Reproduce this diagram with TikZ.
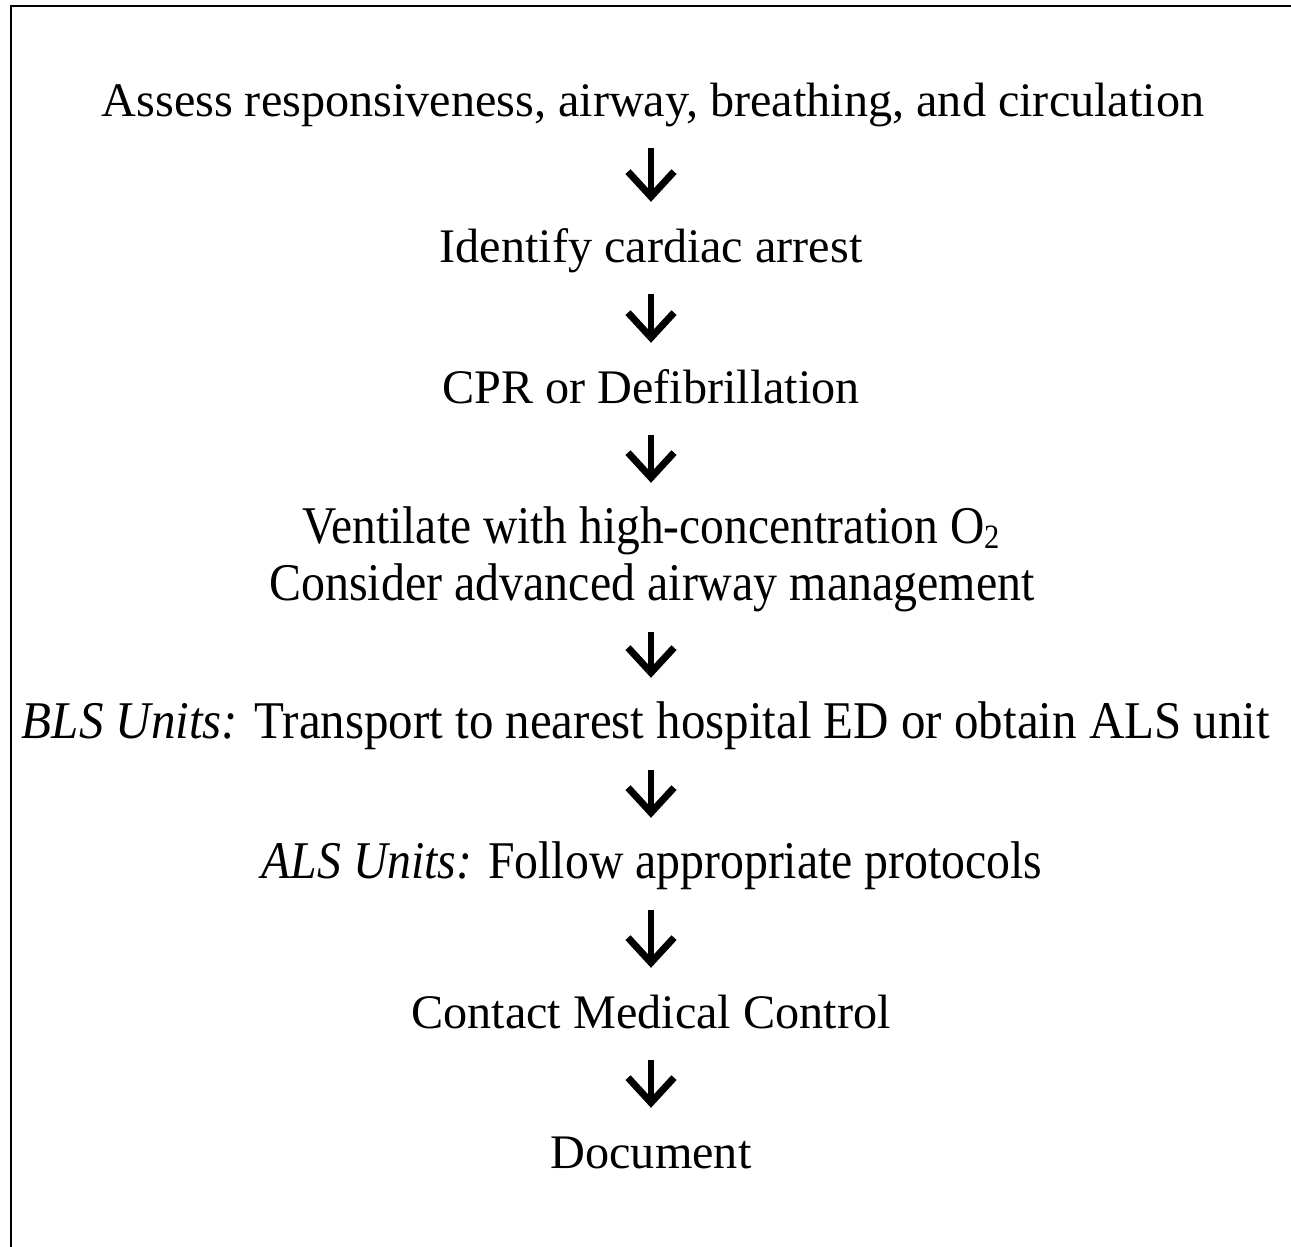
\documentclass[tikz,border=0pt]{standalone}
\usepackage{fontspec}
\setmainfont{Liberation Serif}
\usetikzlibrary{arrows.meta}
\newcommand{\oxsub}{\raisebox{-5pt}{\fontsize{31}{33}\selectfont 2}}
\begin{document}
\begin{tikzpicture}[x=1pt,y=-1pt,
  stepline/.style={anchor=base, inner sep=0pt, text height=34pt, text depth=11pt,
    font=\fontsize{48.2}{50}\selectfont},
  flow/.style={line width=6.5pt, shorten <=21pt, shorten >=26pt,
    -{Straight Barb[length=25pt,width=46pt,line width=7pt]}},
  frame/.style={line width=2.7pt}]
  \useasboundingbox (0,0) rectangle (1291,1247);
  \clip (0,0) rectangle (1291,1247);
  \fill[white] (0,0) rectangle (1291,1247);
  % outer frame, running off the right and bottom edges
  \draw[frame] (11,1300) -- (11,6) -- (1320,6);

  \coordinate (col) at (651,0);

  \node[stepline] (s1) at (653,116) {Assess responsiveness, airway, breathing, and circulation};
  \node[stepline] (s2) at (651,262) {Identify cardiac arrest};
  \node[stepline] (s3) at (651,403) {CPR or Defibrillation};
  \node[stepline, text depth=7pt] (s4a) at (651,543) {\resizebox{697pt}{1.1\height}{Ventilate with high-concentration O\oxsub}};
  \node[stepline] (s4b) at (652,600) {\resizebox{765pt}{1.1\height}{Consider advanced airway management}};
  \node[stepline] (s5) at (646,738) {\resizebox{1248pt}{1.1\height}{\textit{BLS Units:} Transport to nearest hospital ED or obtain ALS unit}};
  \node[stepline] (s6) at (652,878) {\resizebox{781pt}{1.1\height}{\textit{ALS Units:} Follow appropriate protocols}};
  \node[stepline] (s7) at (651,1028) {Contact Medical Control};
  \node[stepline] (s8) at (651,1168) {Document};

  \draw[flow] (s1.south -| col) -- (s2.north -| col);
  \draw[flow] (s2.south -| col) -- (s3.north -| col);
  \draw[flow] (s3.south -| col) -- (s4a.north -| col);
  \draw[flow] (s4b.south -| col) -- (s5.north -| col);
  \draw[flow] (s5.south -| col) -- (s6.north -| col);
  \draw[flow] (s6.south -| col) -- (s7.north -| col);
  \draw[flow] (s7.south -| col) -- (s8.north -| col);
\end{tikzpicture}
\end{document}
